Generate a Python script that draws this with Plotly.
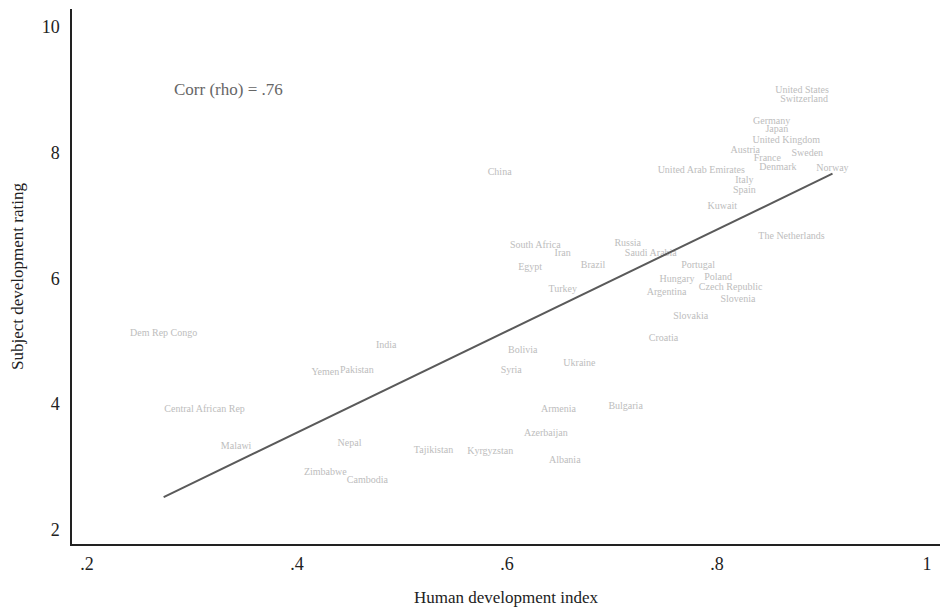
import numpy as np
import plotly.graph_objects as go

# Country-level data: human development index vs. subject development rating
countries = [
    "United States", "Switzerland", "Germany", "Japan", "United Kingdom",
    "Austria", "France", "Sweden", "Denmark", "Norway",
    "United Arab Emirates", "Italy", "Spain", "Kuwait", "The Netherlands",
    "Saudi Arabia", "Portugal", "Hungary", "Poland", "Argentina",
    "Czech Republic", "Slovenia", "Slovakia", "Croatia", "China",
    "South Africa", "Iran", "Egypt", "Brazil", "Turkey",
    "Russia", "Dem Rep Congo", "India", "Yemen", "Pakistan",
    "Central African Rep", "Malawi", "Nepal", "Zimbabwe", "Cambodia",
    "Bolivia", "Syria", "Ukraine", "Armenia", "Bulgaria",
    "Azerbaijan", "Tajikistan", "Kyrgyzstan", "Albania",
]
hdi = [
    0.881, 0.883, 0.852, 0.857, 0.866,
    0.827, 0.848, 0.886, 0.858, 0.910,
    0.785, 0.826, 0.826, 0.805, 0.871,
    0.737, 0.782, 0.762, 0.801, 0.752,
    0.813, 0.820, 0.775, 0.749, 0.593,
    0.627, 0.653, 0.622, 0.682, 0.653,
    0.715, 0.273, 0.485, 0.427, 0.457,
    0.312, 0.342, 0.450, 0.427, 0.467,
    0.615, 0.604, 0.669, 0.649, 0.713,
    0.637, 0.530, 0.584, 0.655,
]
rating = [
    8.98, 8.84, 8.50, 8.36, 8.20,
    8.04, 7.90, 7.99, 7.76, 7.74,
    7.71, 7.56, 7.39, 7.14, 6.67,
    6.40, 6.20, 5.99, 6.02, 5.77,
    5.85, 5.67, 5.40, 5.04, 7.68,
    6.53, 6.39, 6.18, 6.20, 5.82,
    6.55, 5.12, 4.94, 4.51, 4.53,
    3.91, 3.32, 3.38, 2.92, 2.79,
    4.86, 4.53, 4.64, 3.91, 3.97,
    3.53, 3.27, 3.24, 3.11,
]
x_ticks = [0.2, 0.4, 0.6, 0.8, 1.0]
x_tick_labels = [".2", ".4", ".6", ".8", "1"]
y_ticks = [2, 4, 6, 8, 10]
corr_label = "Corr (rho) = .76"

# Linear fit across the observed HDI span
x_arr = np.array(hdi)
y_arr = np.array(rating)
slope, intercept = np.polyfit(x_arr, y_arr, 1)
fit_x = np.array([x_arr.min(), x_arr.max()])
fit_y = intercept + slope * fit_x

FONT = "Liberation Serif"

fig = go.Figure()
fig.add_trace(go.Scatter(
    x=hdi, y=rating, mode="text", text=countries,
    textposition="middle center",
    textfont=dict(family=FONT, size=10, color="#bdbdbd"),
    hoverinfo="text", showlegend=False,
))
fig.add_trace(go.Scatter(
    x=fit_x, y=fit_y, mode="lines",
    line=dict(color="#5a5a5a", width=2),
    hoverinfo="skip", showlegend=False,
))

fig.add_annotation(
    x=0.335, y=9.0, xref="x", yref="y", text=corr_label, showarrow=False,
    font=dict(family=FONT, size=17, color="#666666"),
)

fig.update_layout(
    width=942, height=612,
    margin=dict(l=72, r=2, t=9, b=68),
    paper_bgcolor="white", plot_bgcolor="white",
    font=dict(family=FONT, color="#222222"),
    xaxis=dict(
        range=[0.1857, 1.0124], tickvals=x_ticks, ticktext=x_tick_labels,
        showgrid=False, zeroline=False, showline=True, linecolor="#222222",
        linewidth=1.5, ticks="", tickfont=dict(family=FONT, size=18, color="#222222"),
        ticklabelstandoff=3,
        title=dict(text="Human development index", standoff=18,
                   font=dict(family=FONT, size=17, color="#222222")),
    ),
    yaxis=dict(
        range=[1.777, 10.283], tickvals=y_ticks,
        showgrid=False, zeroline=False, showline=True, linecolor="#222222",
        linewidth=1.5, ticks="", tickfont=dict(family=FONT, size=18, color="#222222"),
        ticklabelstandoff=7,
        title=dict(text="Subject development rating", standoff=14,
                   font=dict(family=FONT, size=17, color="#222222")),
    ),
)

fig.write_html("out.html")
